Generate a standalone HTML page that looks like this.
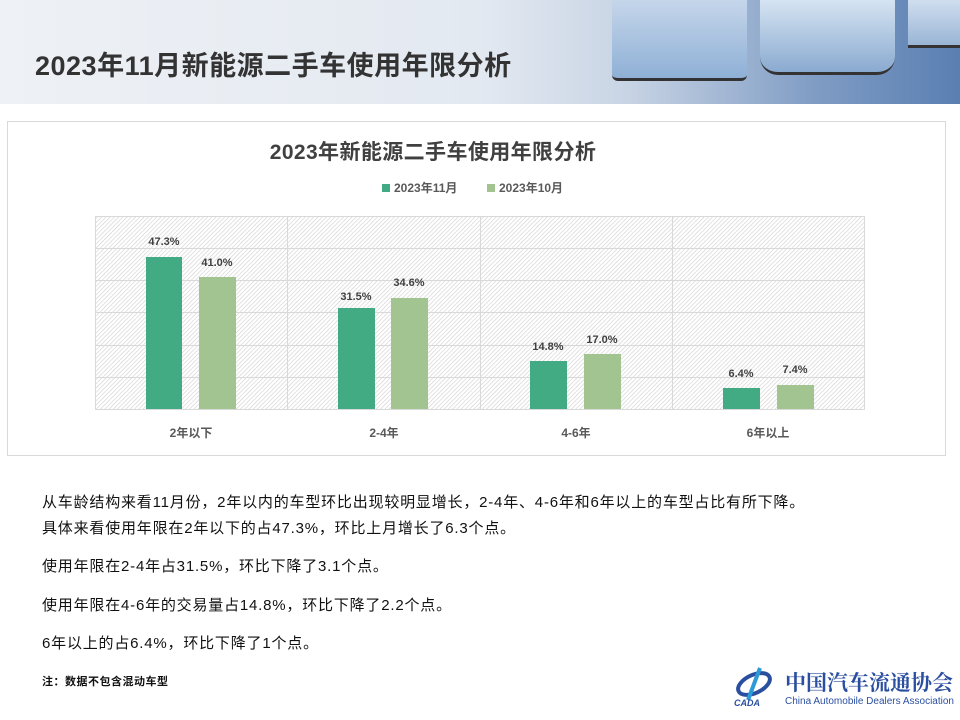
<!DOCTYPE html>
<html><head><meta charset="utf-8"><style>
body{margin:0;width:960px;height:720px;overflow:hidden;background:#fff;font-family:"Liberation Sans","Noto Sans CJK SC",sans-serif;position:relative}
.hdr{position:absolute;left:0;top:0;width:960px;height:104px;background:linear-gradient(90deg,#eef1f5 0%,#e3e9f1 50%,#c9d5e5 65%,#7f9cc4 85%,#5a7fb2 100%)}
.t{position:absolute;left:35px;top:44px;font-size:27px;font-weight:bold;color:#333;letter-spacing:0.5px}
.p{position:absolute;left:42px;font-size:15px;color:#111;letter-spacing:0.8px;white-space:nowrap}
</style></head><body>
<div class="hdr">
<div style="position:absolute;left:612px;top:0;width:135px;height:78px;background:linear-gradient(180deg,#c5d6ea,#8fb0d6);border-bottom:3px solid #333;border-radius:0 0 6px 6px"></div>
<div style="position:absolute;left:760px;top:0;width:135px;height:72px;background:linear-gradient(180deg,#d6e4f2,#8aaad0);border-bottom:3px solid #333;border-radius:0 0 18px 18px"></div>
<div style="position:absolute;left:908px;top:0;width:52px;height:45px;background:linear-gradient(180deg,#d0deef,#9ab5d6);border-bottom:3px solid #333"></div>
</div>
<div class="t">2023年11月新能源二手车使用年限分析</div>
<svg style="position:absolute;left:0;top:0" width="960" height="720">
<defs><pattern id="h" width="3" height="3" patternUnits="userSpaceOnUse" patternTransform="rotate(45)"><rect width="3" height="3" fill="#fff"/><line x1="0" y1="0" x2="0" y2="3" stroke="#cfcfcf" stroke-width="1.2"/></pattern></defs>
<rect x="7.5" y="121.5" width="938" height="334" fill="#fff" stroke="#d9d9d9"/>
<text x="433" y="159" font-size="21" font-weight="bold" fill="#404040" text-anchor="middle" letter-spacing="0.4">2023年新能源二手车使用年限分析</text>
<rect x="382" y="184" width="8" height="8" fill="#43ab83"/><text x="394" y="192" font-size="12" font-weight="bold" fill="#595959">2023年11月</text>
<rect x="487" y="184" width="8" height="8" fill="#a1c490"/><text x="499" y="192" font-size="12" font-weight="bold" fill="#595959">2023年10月</text>
<rect x="95" y="216" width="770" height="193" fill="url(#h)"/>
<g stroke="#d9d9d9" stroke-width="1">
<line x1="95" y1="216.5" x2="865" y2="216.5"/><line x1="95" y1="248.5" x2="865" y2="248.5"/><line x1="95" y1="280.5" x2="865" y2="280.5"/><line x1="95" y1="312.5" x2="865" y2="312.5"/><line x1="95" y1="345.5" x2="865" y2="345.5"/><line x1="95" y1="377.5" x2="865" y2="377.5"/><line x1="95" y1="409.5" x2="865" y2="409.5"/>
<line x1="95.5" y1="216" x2="95.5" y2="409"/><line x1="287.5" y1="216" x2="287.5" y2="409"/><line x1="480.5" y1="216" x2="480.5" y2="409"/><line x1="672.5" y1="216" x2="672.5" y2="409"/><line x1="864.5" y1="216" x2="864.5" y2="409"/>
</g>
<g font-size="11" font-weight="bold" fill="#404040" text-anchor="middle">
<rect x="146" y="257" width="36" height="152" fill="#43ab83"/><text x="164" y="245">47.3%</text>
<rect x="199" y="277" width="37" height="132" fill="#a1c490"/><text x="217" y="266">41.0%</text>
<rect x="338" y="308" width="37" height="101" fill="#43ab83"/><text x="356" y="300">31.5%</text>
<rect x="391" y="298" width="37" height="111" fill="#a1c490"/><text x="409" y="286">34.6%</text>
<rect x="530" y="361" width="37" height="48" fill="#43ab83"/><text x="548" y="350">14.8%</text>
<rect x="584" y="354" width="37" height="55" fill="#a1c490"/><text x="602" y="343">17.0%</text>
<rect x="723" y="388" width="37" height="21" fill="#43ab83"/><text x="741" y="377">6.4%</text>
<rect x="777" y="385" width="37" height="24" fill="#a1c490"/><text x="795" y="373">7.4%</text>
<g font-size="12" fill="#595959"><text x="191" y="437">2年以下</text><text x="384" y="437">2-4年</text><text x="576" y="437">4-6年</text><text x="768" y="437">6年以上</text></g>
</g>
<ellipse cx="754" cy="684" rx="17" ry="9" fill="none" stroke="#2b4fa0" stroke-width="4" transform="rotate(-25 754 684)"/>
<path d="M760 668 L748 700" stroke="#2b9ad6" stroke-width="4"/>
<text x="734" y="706" font-size="9" font-style="italic" font-weight="bold" fill="#2b4fa0">CADA</text>
<text x="785" y="690" font-size="21" font-weight="bold" fill="#2b4fa0" font-family="Noto Serif CJK SC,serif">中国汽车流通协会</text>
<text x="785" y="704" font-size="10" fill="#2b4fa0">China Automobile Dealers Association</text>
</svg>
<div class="p" style="top:491px">从车龄结构来看11月份，2年以内的车型环比出现较明显增长，2-4年、4-6年和6年以上的车型占比有所下降。</div>
<div class="p" style="top:517px">具体来看使用年限在2年以下的占47.3%，环比上月增长了6.3个点。</div>
<div class="p" style="top:555px">使用年限在2-4年占31.5%，环比下降了3.1个点。</div>
<div class="p" style="top:594px">使用年限在4-6年的交易量占14.8%，环比下降了2.2个点。</div>
<div class="p" style="top:632px">6年以上的占6.4%，环比下降了1个点。</div>
<div class="p" style="top:673px;font-size:11px;font-weight:bold;letter-spacing:0.5px">注：数据不包含混动车型</div>
</body></html>
